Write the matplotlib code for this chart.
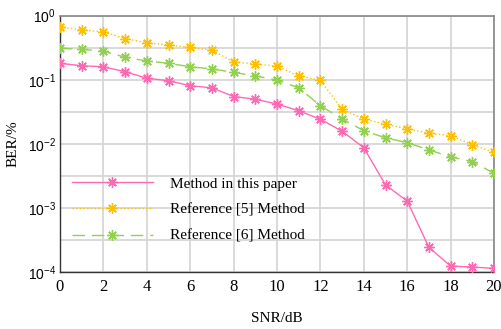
import matplotlib.pyplot as plt
import matplotlib.ticker as mticker
import numpy as np

snr = list(range(0, 21))

# BER
ber_paper = [0.181, 0.166, 0.160, 0.134, 0.106, 0.097, 0.081, 0.075, 0.055, 0.050,
             0.042, 0.033, 0.0243, 0.0158, 0.00875, 0.0023, 0.00129, 0.000245,
             0.000125, 0.000121, 0.000115]
ber_ref5 = [0.67, 0.60, 0.56, 0.44, 0.38, 0.35, 0.32, 0.29, 0.19, 0.177,
            0.163, 0.115, 0.098, 0.0348, 0.0245, 0.0203, 0.0173, 0.0147,
            0.0135, 0.00975, 0.0074]
ber_ref6 = [0.31, 0.30, 0.28, 0.225, 0.197, 0.181, 0.160, 0.148, 0.131, 0.115,
            0.0995, 0.075, 0.0395, 0.0245, 0.0161, 0.0125, 0.0105, 0.0081,
            0.0063, 0.0053, 0.0035]

labels = ["Method in this paper", "Reference [5] Method", "Reference [6] Method"]
colors = ["#FF69B4", "#FFC000", "#92D050"]
styles = ["-", ":", (0, (9, 5))]

serif = "Liberation Serif"
sans = "Liberation Sans"

fig = plt.figure(figsize=(5.02, 3.29), dpi=100)
ax = fig.add_axes([60 / 502, 1 - 272.3 / 329, 434 / 502, 256.6 / 329])

for y, lab, c, ls in zip([ber_paper, ber_ref5, ber_ref6], labels, colors, styles):
    ax.plot(snr, y, color=c, linestyle=ls, linewidth=1.0, marker=(8, 2, 0),
            markersize=7.5, markeredgewidth=1.0, label=lab, zorder=3)

ax.set_yscale("log")
ax.set_xlim(0, 20)
ax.set_ylim(1e-4, 1)
ax.set_xticks(range(0, 21, 2))
ax.set_yticks([1e-4, 1e-3, 1e-2, 1e-1, 1])
ax.set_yticks([10 ** (-k - 0.5) for k in range(4)], minor=True)
ax.yaxis.set_minor_formatter(mticker.NullFormatter())
ax.set_yticklabels([r"$\mathdefault{10^{-4}}$", r"$\mathdefault{10^{-3}}$",
                    r"$\mathdefault{10^{-2}}$", r"$\mathdefault{10^{-1}}$",
                    r"$\mathdefault{10^{0}}$"])
ax.grid(True, which="both", color="#d3d3d3", linewidth=1.2, zorder=0)
ax.set_axisbelow(True)
ax.tick_params(which="both", length=0)
ax.tick_params(axis="y", pad=3)
ax.tick_params(axis="x", pad=5)
for t in ax.get_xticklabels():
    t.set_fontfamily(serif)
    t.set_fontsize(12)
for t in ax.get_yticklabels():
    t.set_fontfamily(sans)
    t.set_fontsize(10)

for side in ["left", "bottom"]:
    ax.spines[side].set_color("#333333")
    ax.spines[side].set_linewidth(1.0)
for side in ["top", "right"]:
    ax.spines[side].set_color("#888888")
    ax.spines[side].set_linewidth(1.2)

ax.set_xlabel("SNR/dB", fontfamily=serif, fontsize=11, labelpad=12)
ax.set_ylabel("BER/%", fontfamily=serif, fontsize=11, labelpad=6)

ax.legend(loc="upper left", bbox_to_anchor=(0.0276, 0.372), frameon=False,
          prop={"family": serif, "size": 11}, handlelength=5.3,
          handletextpad=1.1, labelspacing=0.82, borderpad=0, borderaxespad=0)

fig.savefig("out.png", dpi=100)
